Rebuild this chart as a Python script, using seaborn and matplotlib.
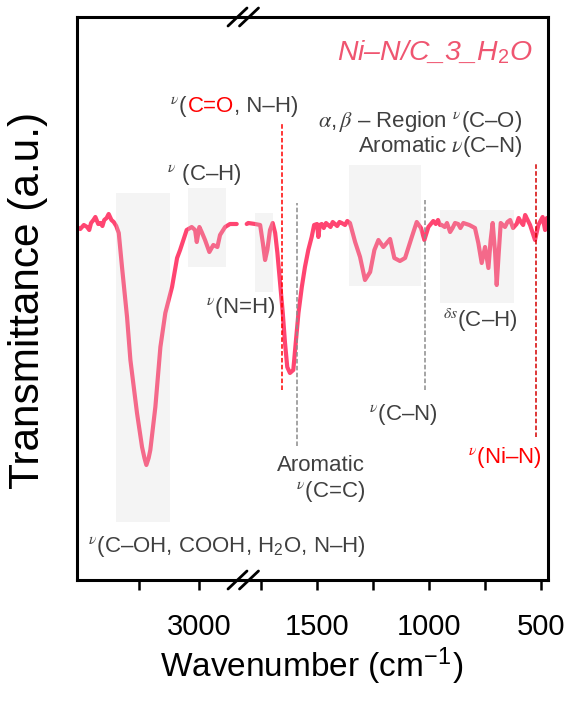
import matplotlib
matplotlib.use("Agg")
import matplotlib.pyplot as plt
import pandas as pd
import seaborn as sns
from matplotlib.lines import Line2D
from matplotlib.patches import Rectangle
from matplotlib.transforms import offset_copy

# spectrum left of the axis break (cm-1, transmittance a.u.)
wn_high = [4017, 3990, 3960, 3933, 3915, 3900, 3880, 3864, 3840, 3822, 3805, 3790, 3770,
           3753, 3730, 3711, 3690, 3669, 3642, 3600, 3572, 3517, 3475, 3455, 3439, 3420,
           3406, 3364, 3322, 3281, 3225, 3183, 3158, 3103, 3061, 3033, 3019, 2997, 2978,
           2950, 2914, 2881, 2847, 2825, 2783, 2742, 2686]
t_high = [353, 351, 355, 353, 350, 357, 360, 363, 356, 357, 354, 360, 362,
          366, 360, 358, 354, 347, 313, 263, 220, 167, 133, 122, 115, 122,
          130, 173, 233, 267, 293, 322, 330, 350, 353, 350, 338, 353, 348,
          340, 328, 335, 333, 345, 353, 356, 356]

# spectrum right of the axis break
wn_low = [1814, 1807, 1777, 1754, 1742, 1732, 1722, 1710, 1698, 1687, 1677, 1665, 1653,
          1643, 1633, 1621, 1606, 1598, 1583, 1568, 1554, 1539, 1524, 1513, 1500, 1494,
          1488, 1479, 1470, 1460, 1450, 1440, 1430, 1420, 1410, 1400, 1390, 1375, 1365,
          1353, 1330, 1308, 1286, 1263, 1244, 1226, 1204, 1174, 1155, 1130, 1107, 1077,
          1055, 1036, 1021, 1003, 981, 970, 960, 951, 943, 930, 920, 906, 895, 884, 870,
          860, 847, 820, 795, 780, 765, 750, 735, 725, 716, 705, 698, 689, 680, 661, 650,
          638, 625, 609, 600, 590, 580, 571, 560, 549, 527, 512, 493, 482, 474]
t_low = [356, 357, 356, 355, 337, 320, 330, 350, 357, 347, 327, 297, 267,
         237, 213, 207, 210, 230, 267, 293, 313, 330, 343, 355, 356, 343,
         355, 356, 352, 357, 355, 353, 358, 356, 354, 358, 357, 355, 359,
         357, 338, 323, 300, 308, 330, 340, 333, 341, 322, 319, 322, 343,
         358, 352, 340, 353, 359, 356, 360, 355, 355, 353, 357, 348, 352, 357, 356,
         352, 357, 355, 352, 337, 317, 333, 312, 340, 357, 327, 295, 327, 357, 353, 358,
         360, 352, 356, 362, 358, 355, 365, 360, 355, 340, 355, 363, 350, 362]

high_ticks = [3000]
high_minor = [3500]
low_ticks = [1500, 1000, 500]
low_minor = [1750, 1250, 750]

# shaded band assignments: (wn from, wn to, bottom, top)
bands_high = [(3692, 3242, 58, 387), (3092, 2775, 313, 392)]
bands_low = [(1777, 1696, 288, 367), (1357, 1036, 294, 415), (951, 621, 277, 370)]
# marker lines: (wn, bottom, top, colour)
marks = [(1656, 190, 458, "#ff0000"), (1589, 134, 377, "#8c8c8c"),
         (1018, 190, 380, "#8c8c8c"), (522, 143, 417, "#d40000")]

LINE = "#ff4571"
GREY = "#404040"
RED = "#ff0000"
FS = 16

sns.set_theme(style="white")
plt.rcParams["font.family"] = ["Liberation Sans", "DejaVu Sans"]
plt.rcParams["mathtext.fontset"] = "custom"
plt.rcParams["mathtext.rm"] = "Liberation Sans"
plt.rcParams["mathtext.it"] = "STIXGeneral:italic"
plt.rcParams["mathtext.bf"] = "Liberation Sans:bold"

fig = plt.figure(figsize=(5.76, 7.04), dpi=100, facecolor="white")
ax_h = fig.add_axes([77 / 576, 124 / 704, 165 / 576, 563 / 704])
ax_l = fig.add_axes([242 / 576, 124 / 704, 306 / 576, 563 / 704])
for ax in (ax_h, ax_l):
    ax.patch.set_visible(False)

df_h = pd.DataFrame({"wn": wn_high, "T": t_high})
df_l = pd.DataFrame({"wn": wn_low, "T": t_low})
sns.lineplot(data=df_h, x="wn", y="T", color=LINE, linewidth=3.0, estimator=None, ax=ax_h)
sns.lineplot(data=df_l, x="wn", y="T", color=LINE, linewidth=3.0, estimator=None, ax=ax_l)

for ax, bands in ((ax_h, bands_high), (ax_l, bands_low)):
    for x0, x1, y0, y1 in bands:
        ax.add_patch(Rectangle((x1, y0), x0 - x1, y1 - y0, facecolor="#d6d6d6",
                               edgecolor="none", alpha=0.25, zorder=5))
for x, y0, y1, c in marks:
    ax_l.plot([x, x], [y0, y1], color=c, linewidth=1.1, linestyle=(0, (3, 1.5)), zorder=4)

ax_h.set_xlim(4017, 2642)
ax_l.set_xlim(1835, 469)
ax_h.set_xticks(high_ticks)
ax_h.set_xticks(high_minor, minor=True)
ax_l.set_xticks(low_ticks)
ax_l.set_xticks(low_minor, minor=True)
for ax in (ax_h, ax_l):
    ax.set_ylim(0, 563)
    ax.set_yticks([])
    ax.set_xlabel("")
    ax.set_ylabel("")
    ax.tick_params(axis="x", which="both", bottom=True, direction="out", length=7,
                   width=1.8, color="black", labelsize=21, pad=17, labelcolor="black")
    for sp in ax.spines.values():
        sp.set_color("black")
        sp.set_linewidth(2.2)
ax_h.spines["right"].set_visible(False)
ax_l.spines["left"].set_visible(False)

# axis break marks
for ypx in (17, 580):
    for dx in (0, 11.5):
        fig.add_artist(Line2D([(228 + dx) / 576, (247 + dx) / 576],
                              [1 - (ypx + 9) / 704, 1 - (ypx - 9) / 704],
                              color="black", linewidth=2.0))

fig.text(312 / 576, 1 - 676 / 704, r"Wavenumber (cm$^{-1}$)", ha="center", va="baseline",
         fontsize=24, color="black")
fig.text(28 / 576, 1 - 300 / 704, "Transmittance (a.u.)", rotation=90, ha="center",
         va="center", fontsize=30.5, color="black")

renderer = fig.canvas.get_renderer()


def pieces(ax, x, y, parts, size=FS):
    trans = ax.transData
    for s, c in parts:
        t = ax.text(x, y, s, color=c, fontsize=size, ha="left", va="baseline",
                    transform=trans, clip_on=False, zorder=6)
        w = t.get_window_extent(renderer).width
        trans = offset_copy(trans, x=w, units="dots")


pieces(ax_h, 3242, 468, [(r"$^{\nu}$(", GREY), ("C=O", RED), (", N–H)", GREY)])
pieces(ax_h, 3267, 400, [(r"$^{\nu}$ (C–H)", GREY)])
pieces(ax_h, 3925, 28, [(r"$^{\nu}$(C–OH, COOH, H$_2$O, N–H)", GREY)])

kw = dict(ha="right", va="baseline", fontsize=FS, color=GREY, clip_on=False, zorder=6)
ax_l.text(585, 453, r"$\alpha, \beta$ – Region $^{\nu}$(C–O)", **kw)
ax_l.text(585, 428, r"Aromatic $\nu$(C–N)", **kw)
ax_l.text(1688, 267, r"$^{\nu}$(N=H)", **kw)
ax_l.text(1286, 109, "Aromatic", **kw)
ax_l.text(1286, 83, r"$^{\nu}$(C=C)", **kw)
ax_l.text(964, 160, r"$^{\nu}$(C–N)", **kw)
ax_l.text(603, 253, r"$^{\delta s}$(C–H)", **kw)
kw["color"] = RED
ax_l.text(496, 117, r"$^{\nu}$(Ni–N)", **kw)
ax_l.text(536, 520, r"Ni–N/C_3_H$_2$O", ha="right", va="baseline", fontsize=20.5,
          style="italic", color="#ef5570")

fig.savefig("out.png", dpi=100, facecolor="white")
